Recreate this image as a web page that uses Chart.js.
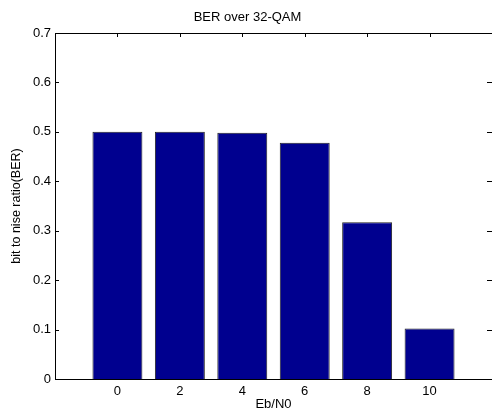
<!DOCTYPE html>
<html>
<head>
<meta charset="utf-8">
<script src="https://cdn.jsdelivr.net/npm/chart.js@4"></script>
<style>
  html, body { margin: 0; padding: 0; background: #fff; }
  #wrap { width: 492px; height: 412px; position: relative; }
</style>
</head>
<body>
<div id="wrap"><canvas id="berChart" width="492" height="412"></canvas></div>
<script>
var ebN0 = [0, 2, 4, 6, 8, 10];
var berValues = [0.5, 0.5, 0.498, 0.478, 0.317, 0.102];
var xTicks = [0, 2, 4, 6, 8, 10];
var yTicks = [0, 0.1, 0.2, 0.3, 0.4, 0.5, 0.6, 0.7];

var FONT = "'Liberation Sans', Arial, Helvetica, sans-serif";

// MATLAB-style box: top line plus inward ticks on all four sides
var innerTicks = {
  id: "innerTicks",
  beforeDatasetsDraw: function (chart) {
    var ctx = chart.ctx;
    var a = chart.chartArea;
    var xs = chart.scales.x, ys = chart.scales.y;
    var len = 4;
    ctx.save();
    ctx.strokeStyle = "#000";
    ctx.lineWidth = 1;
    ctx.beginPath();
    ctx.moveTo(a.left, a.top + 0.5);
    ctx.lineTo(a.right, a.top + 0.5);
    xTicks.forEach(function (v) {
      var px = Math.round(xs.getPixelForValue(v)) + 0.5;
      ctx.moveTo(px, a.top);
      ctx.lineTo(px, a.top + len);
      ctx.moveTo(px, a.bottom);
      ctx.lineTo(px, a.bottom - len);
    });
    yTicks.forEach(function (v) {
      var py = Math.round(ys.getPixelForValue(v)) + 0.5;
      ctx.moveTo(a.left, py);
      ctx.lineTo(a.left + len, py);
      ctx.moveTo(a.right, py);
      ctx.lineTo(a.right - len - 1, py);
    });
    ctx.stroke();
    ctx.restore();
  }
};

var points = ebN0.map(function (x, i) { return { x: x, y: berValues[i] }; });

new Chart(document.getElementById("berChart"), {
  type: "bar",
  data: {
    datasets: [{
      data: points,
      backgroundColor: "#00008f",
      borderColor: "#222",
      borderWidth: 1,
      barPercentage: 0.8,
      categoryPercentage: 1.0
    }]
  },
  options: {
    responsive: false,
    animation: false,
    devicePixelRatio: 1,
    layout: { padding: { left: 0, right: -3, top: 0, bottom: 0 } },
    plugins: {
      legend: { display: false },
      tooltip: { enabled: false },
      title: {
        display: true,
        text: "BER over 32-QAM",
        color: "#000",
        font: { family: FONT, size: 13, weight: "normal" },
        padding: { top: 10, bottom: 7.4 }
      }
    },
    scales: {
      x: {
        type: "linear",
        offset: false,
        min: -2,
        max: 12,
        afterBuildTicks: function (s) { s.ticks = xTicks.map(function (v) { return { value: v }; }); },
        afterFit: function (s) { s.height = 33; },
        grid: { display: false, drawTicks: false, offset: false },
        border: { display: true, color: "#000", width: 1 },
        ticks: { color: "#000", padding: 5, maxRotation: 0, font: { family: FONT, size: 13 } },
        title: { display: true, text: "Eb/N0", color: "#000", padding: { top: 0, bottom: 0 }, font: { family: FONT, size: 13 } }
      },
      y: {
        min: 0,
        max: 0.7,
        afterBuildTicks: function (s) { s.ticks = yTicks.map(function (v) { return { value: v }; }); },
        afterFit: function (s) { s.width = 55; },
        grid: { display: false, drawTicks: false },
        border: { display: true, color: "#000", width: 1 },
        ticks: {
          color: "#000",
          padding: 4,
          font: { family: FONT, size: 13 },
          callback: function (v) { return v === 0 ? "0" : v.toFixed(1); }
        },
        title: { display: true, text: "bit to nise ratio(BER)", color: "#000", padding: { top: 9, bottom: 0 }, font: { family: FONT, size: 12.5 } }
      }
    }
  },
  plugins: [innerTicks]
});
</script>
</body>
</html>
